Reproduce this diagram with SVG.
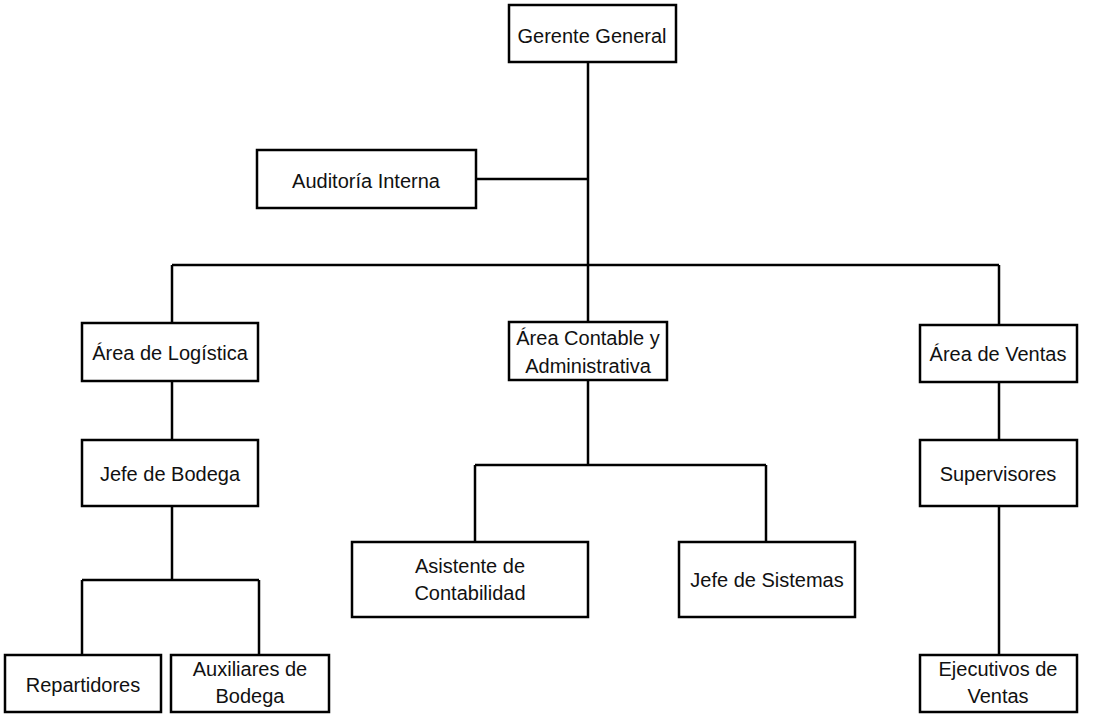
<svg xmlns="http://www.w3.org/2000/svg" width="1115" height="714" viewBox="0 0 1115 714">
<style>
rect{fill:#fff;stroke:#000;stroke-width:2.5}
.c line{stroke:#000;stroke-width:2.5}
text{font-family:"Liberation Sans",Arial,sans-serif;font-size:20px;fill:#111;text-anchor:middle}
</style>
<rect x="0" y="0" width="1115" height="714" style="stroke:none"/>
<g class="c" id="connectors">
<line x1="588" y1="62" x2="588" y2="323"/>
<line x1="476" y1="179" x2="588" y2="179"/>
<line x1="172" y1="265" x2="999" y2="265"/>
<line x1="172" y1="265" x2="172" y2="323"/>
<line x1="999" y1="265" x2="999" y2="325"/>
<line x1="172" y1="381" x2="172" y2="440"/>
<line x1="172" y1="506" x2="172" y2="580"/>
<line x1="82" y1="580" x2="259" y2="580"/>
<line x1="82" y1="580" x2="82" y2="655"/>
<line x1="259" y1="580" x2="259" y2="655"/>
<line x1="588" y1="380" x2="588" y2="465"/>
<line x1="475" y1="465" x2="766" y2="465"/>
<line x1="475" y1="465" x2="475" y2="542"/>
<line x1="766" y1="465" x2="766" y2="542"/>
<line x1="999" y1="382" x2="999" y2="440"/>
<line x1="999" y1="506" x2="999" y2="655"/>
</g>
<g id="gerente"><rect x="509" y="5" width="167" height="57"/><text x="592" y="43">Gerente General</text></g>
<g id="auditoria"><rect x="257" y="150" width="219" height="58"/><text x="366" y="188">Auditoría Interna</text></g>
<g id="logistica"><rect x="82" y="323" width="176" height="58"/><text x="170" y="360">Área de Logística</text></g>
<g id="contable"><rect x="509" y="322" width="158" height="58"/><text x="588" y="345">Área Contable y</text><text x="588" y="373">Administrativa</text></g>
<g id="ventas"><rect x="920" y="325" width="157" height="57"/><text x="998" y="361">Área de Ventas</text></g>
<g id="jefebodega"><rect x="82" y="440" width="176" height="66"/><text x="170" y="481">Jefe de Bodega</text></g>
<g id="supervisores"><rect x="920" y="440" width="157" height="66"/><text x="998" y="481">Supervisores</text></g>
<g id="asistente"><rect x="352" y="542" width="236" height="75"/><text x="470" y="573">Asistente de</text><text x="470" y="600">Contabilidad</text></g>
<g id="sistemas"><rect x="679" y="542" width="176" height="75"/><text x="767" y="587">Jefe de Sistemas</text></g>
<g id="repartidores"><rect x="5" y="655" width="156" height="57"/><text x="83" y="692">Repartidores</text></g>
<g id="auxiliares"><rect x="171" y="655" width="158" height="57"/><text x="250" y="676">Auxiliares de</text><text x="250" y="703">Bodega</text></g>
<g id="ejecutivos"><rect x="920" y="655" width="157" height="57"/><text x="998" y="676">Ejecutivos de</text><text x="998" y="703">Ventas</text></g>
</svg>
